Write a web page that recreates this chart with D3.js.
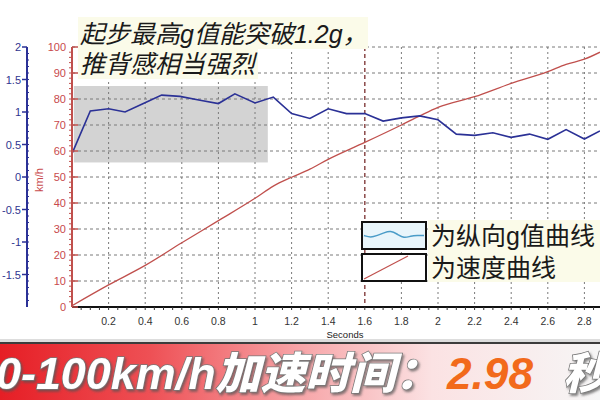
<!DOCTYPE html>
<html><head><meta charset="utf-8">
<script src="https://cdn.jsdelivr.net/npm/d3@7"></script>
<style>body{margin:0;background:#fff}svg{display:block}</style>
</head><body>
<svg id="c" width="600" height="400"></svg>
<script>
// ---- data ----
const speedTime = [0,0.2,0.4,0.6,0.8,1.0,1.1,1.2,1.3,1.4,1.6,1.8,1.9,2.0,2.2,2.4,2.6,2.7,2.8,2.885];
const speedVals = [0.5,8.5,16,24.7,33.2,41.8,46.5,49.9,53,56.8,63.3,70,73.5,76.8,80.9,86,90.5,93.3,95.3,98];
const gTime = [0,0.1,0.2,0.29,0.39,0.49,0.59,0.7,0.8,0.89,1.0,1.1,1.2,1.3,1.4,1.5,1.6,1.7,1.8,1.9,2.0,2.1,2.2,2.3,2.4,2.5,2.6,2.7,2.8,2.885];
const gVals = [0.36,1.015,1.05,1.0,1.13,1.26,1.24,1.18,1.13,1.28,1.14,1.23,0.975,0.9,1.05,0.975,0.975,0.86,0.91,0.94,0.88,0.66,0.64,0.68,0.61,0.66,0.58,0.73,0.585,0.71];
const xTicks = [0.2,0.4,0.6,0.8,1,1.2,1.4,1.6,1.8,2,2.2,2.4,2.6,2.8];
const speedTicks = [0,10,20,30,40,50,60,70,80,90,100];
const gTicks = [-1.5,-1,-0.5,0,0.5,1,1.5,2];
const cursorTime = 1.6;
const highlight = {t0:0.01, t1:1.07, v0:55.6, v1:85};
const titleLines = ["起步最高g值能突破1.2g，","推背感相当强烈"];
const legendLabels = ["为纵向g值曲线","为速度曲线"];
const legendWave = [0.5,0.42,0.5,0.6,0.68,0.55,0.4,0.48,0.5,0.5];
const bannerText = "0-100km/h加速时间：";
const bannerValue = "2.98";
const bannerUnit = "秒";

// ---- scales ----
const svg = d3.select("#c");
const x = d3.scaleLinear().domain([0,3]).range([72,621]);
const yS = d3.scaleLinear().domain([0,100]).range([307,47]);
const yG = d3.scaleLinear().domain([-2,2]).range([307,47]);
const RED = "#c0504d", BLUE = "#2b3196";

const defs = svg.append("defs");
const clip = defs.append("clipPath").attr("id","plot");
clip.append("rect").attr("x",72).attr("y",40).attr("width",540).attr("height",270);

// highlight rect
svg.append("rect")
  .attr("x",x(highlight.t0)).attr("y",yS(highlight.v1))
  .attr("width",x(highlight.t1)-x(highlight.t0)).attr("height",yS(highlight.v0)-yS(highlight.v1))
  .attr("fill","#d3d3d3");

// grid
const grid = svg.append("g");
grid.selectAll("line.h").data(speedTicks.filter(d=>d>0)).join("line")
  .attr("x1",x(0)).attr("x2",600).attr("y1",d=>yS(d)).attr("y2",d=>yS(d))
  .attr("stroke","#7a7a7a").attr("stroke-width",1).attr("stroke-dasharray","3,3");
grid.selectAll("line.v").data(xTicks.filter(d=>d!==cursorTime)).join("line")
  .attr("x1",d=>x(d)).attr("x2",d=>x(d)).attr("y1",yS(100)).attr("y2",yS(0))
  .attr("stroke","#7a7a7a").attr("stroke-width",1).attr("stroke-dasharray","2,3");
grid.append("line")
  .attr("x1",x(cursorTime)).attr("x2",x(cursorTime)).attr("y1",yS(100)).attr("y2",yS(0))
  .attr("stroke","#8a4a4a").attr("stroke-width",1.5).attr("stroke-dasharray","4,3");

// lines
const gLine = d3.line().x((d,i)=>x(gTime[i])).y(d=>yG(d));
const sLine = d3.line().curve(d3.curveMonotoneX).x((d,i)=>x(speedTime[i])).y(d=>yS(d));
const plot = svg.append("g").attr("clip-path","url(#plot)");
plot.append("path").attr("d",sLine(speedVals)).attr("fill","none").attr("stroke",RED).attr("stroke-width",1.3);
plot.append("path").attr("d",gLine(gVals)).attr("fill","none").attr("stroke",BLUE).attr("stroke-width",1.6);

// x axis
const xa = svg.append("g").attr("transform",`translate(0,${yS(0)})`);
xa.append("line").attr("x1",x(0)).attr("x2",600).attr("stroke","#111").attr("stroke-width",2);
xa.selectAll("line.m").data(d3.range(0.05,2.95,0.05)).join("line")
  .attr("x1",d=>x(d)).attr("x2",d=>x(d)).attr("y1",0).attr("y2",3).attr("stroke","#333").attr("stroke-width",1);
xa.selectAll("text").data(xTicks).join("text")
  .attr("x",d=>x(d)).attr("y",18).attr("text-anchor","middle")
  .attr("font-family","Liberation Sans, Arial, sans-serif").attr("font-size",10.5).attr("fill","#333")
  .text(d=>d3.format("~g")(d));
svg.append("text").attr("x",345).attr("y",338).attr("text-anchor","middle")
  .attr("font-family","Liberation Sans, Arial, sans-serif").attr("font-size",9.5).attr("fill","#222").text("Seconds");

// red axis
const ra = svg.append("g");
ra.append("line").attr("x1",x(0)).attr("x2",x(0)).attr("y1",yS(100)).attr("y2",yS(0)).attr("stroke",RED).attr("stroke-width",2);
ra.selectAll("line.mj").data(speedTicks).join("line")
  .attr("x1",x(0)).attr("x2",x(0)+6).attr("y1",d=>yS(d)).attr("y2",d=>yS(d)).attr("stroke",RED).attr("stroke-width",1.5);
ra.selectAll("line.mn").data(d3.range(2,100,2)).join("line")
  .attr("x1",x(0)-3).attr("x2",x(0)).attr("y1",d=>yS(d)).attr("y2",d=>yS(d)).attr("stroke",RED).attr("stroke-width",1);
ra.selectAll("text").data(speedTicks).join("text")
  .attr("x",x(0)-6).attr("y",d=>yS(d)+4).attr("text-anchor","end")
  .attr("font-family","Liberation Sans, Arial, sans-serif").attr("font-size",11).attr("fill","#c8494c")
  .text(d=>d);
svg.append("text").attr("transform","translate(43,180) rotate(-90)").attr("text-anchor","middle")
  .attr("font-family","Liberation Sans, Arial, sans-serif").attr("font-size",11).attr("fill","#c8494c").text("km/h");

// blue axis
const bx = 27;
const ba = svg.append("g");
ba.append("line").attr("x1",bx).attr("x2",bx).attr("y1",yG(2)).attr("y2",yG(-2)).attr("stroke",BLUE).attr("stroke-width",2);
ba.selectAll("line.mj").data(gTicks).join("line")
  .attr("x1",bx-5).attr("x2",bx).attr("y1",d=>yG(d)).attr("y2",d=>yG(d)).attr("stroke",BLUE).attr("stroke-width",1.5);
ba.selectAll("line.mn").data(d3.range(-1.9,2,0.1)).join("line")
  .attr("x1",bx).attr("x2",bx+2).attr("y1",d=>yG(d)).attr("y2",d=>yG(d)).attr("stroke",BLUE).attr("stroke-width",1);
ba.selectAll("text").data(gTicks).join("text")
  .attr("x",bx-6).attr("y",d=>yG(d)+4).attr("text-anchor","end")
  .attr("font-family","Liberation Sans, Arial, sans-serif").attr("font-size",11).attr("fill","#2f3590")
  .text(d=>d);

// title
const tf = "Liberation Sans, Noto Sans CJK SC, sans-serif";
const tt = svg.append("g");
tt.append("rect").attr("x",78).attr("y",17).attr("width",290).attr("height",32).attr("fill","#fbfbe9");
tt.append("rect").attr("x",78).attr("y",49).attr("width",180).attr("height",30).attr("fill","#fbfbe9");
tt.selectAll("text").data(titleLines).join("text")
  .attr("x",80).attr("y",(d,i)=>43+i*30)
  .attr("font-family",tf).attr("font-size",25).attr("font-style","italic")
  .attr("fill","#1a1a1a").text(d=>d);

// legend
const lg = svg.append("g");
lg.append("rect").attr("x",428).attr("y",220).attr("width",172).attr("height",62).attr("fill","#fbfbe9");
const lx = d3.scaleLinear().domain([0,legendWave.length-1]).range([364,424]);
lg.append("rect").attr("x",362).attr("y",222).attr("width",64).attr("height",27).attr("fill","#e8f5fb").attr("stroke","#111").attr("stroke-width",2);
lg.append("path").attr("d",d3.line().curve(d3.curveBasis).x((d,i)=>lx(i)).y(d=>249-d*27)(legendWave))
  .attr("fill","none").attr("stroke","#4a9cc8").attr("stroke-width",1.5);
lg.append("rect").attr("x",362).attr("y",254).attr("width",64).attr("height",27).attr("fill","#fff").attr("stroke","#111").attr("stroke-width",2);
lg.append("line").attr("x1",364).attr("y1",279).attr("x2",408).attr("y2",256).attr("stroke",RED).attr("stroke-width",1.2);
lg.selectAll("text").data(legendLabels).join("text")
  .attr("x",431).attr("y",(d,i)=>245+i*32)
  .attr("font-family",tf).attr("font-size",25)
  .attr("fill","#1a1a1a").text(d=>d);

// banner
const grad = defs.append("linearGradient").attr("id","bg").attr("x1","0").attr("x2","1").attr("y1","0").attr("y2","0");
grad.append("stop").attr("offset","0").attr("stop-color","#e61e25");
grad.append("stop").attr("offset","0.25").attr("stop-color","#ee5055");
grad.append("stop").attr("offset","0.5").attr("stop-color","#f7a5a8");
grad.append("stop").attr("offset","0.72").attr("stop-color","#fbe2e3");
grad.append("stop").attr("offset","1").attr("stop-color","#f6f6f6");
const sh = defs.append("filter").attr("id","sh").attr("x","-10%").attr("y","-20%").attr("width","130%").attr("height","150%");
sh.append("feDropShadow").attr("dx",1.5).attr("dy",2).attr("stdDeviation",1).attr("flood-color","#555").attr("flood-opacity",0.7);

svg.append("rect").attr("x",0).attr("y",339).attr("width",600).attr("height",4).attr("fill","#ddd");
svg.append("rect").attr("x",0).attr("y",343).attr("width",600).attr("height",57).attr("fill","url(#bg)");
svg.append("rect").attr("x",0).attr("y",342).attr("width",600).attr("height",2).attr("fill","#3c3c3c");

const bf = "Liberation Sans, Noto Sans CJK SC, sans-serif";
svg.append("text").attr("x",-4).attr("y",389)
  .attr("font-family",bf).attr("font-size",44).attr("font-weight",900).attr("font-style","italic")
  .attr("textLength",444).attr("lengthAdjust","spacingAndGlyphs")
  .attr("fill","#fff").attr("stroke","#777").attr("stroke-width",1.5).attr("paint-order","stroke")
  .attr("filter","url(#sh)").text(bannerText);
svg.append("text").attr("x",447).attr("y",389)
  .attr("font-family",bf).attr("font-size",44).attr("font-weight",900).attr("font-style","italic")
  .attr("textLength",86).attr("lengthAdjust","spacingAndGlyphs")
  .attr("fill","#f26a1b").text(bannerValue);
svg.append("text").attr("x",563).attr("y",389)
  .attr("font-family",bf).attr("font-size",44).attr("font-weight",900).attr("font-style","italic")
  .attr("fill","#fff").attr("stroke","#777").attr("stroke-width",1.5).attr("paint-order","stroke")
  .attr("filter","url(#sh)").text(bannerUnit);
</script>
</body></html>
